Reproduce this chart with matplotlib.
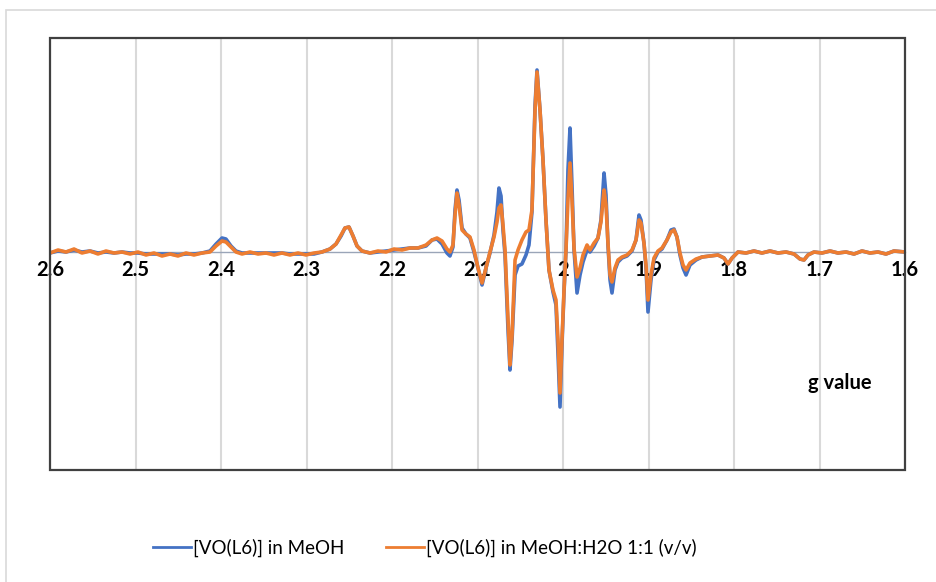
import numpy as np
import matplotlib
matplotlib.use("Agg")
from matplotlib import pyplot as plt
from matplotlib.patches import Rectangle

plt.rcParams['font.family'] = ['Lato', 'DejaVu Sans']

# g value axis (reversed, 2.6 -> 1.6)
g = [2.6000, 2.5906, 2.5813, 2.5719, 2.5626, 2.5532, 2.5439, 2.5345, 2.5251, 2.5158,
     2.5064, 2.4971, 2.4877, 2.4784, 2.4690, 2.4596, 2.4503, 2.4409, 2.4316, 2.4222,
     2.4129, 2.4058, 2.3988, 2.3942, 2.3883, 2.3825, 2.3754, 2.3661, 2.3567, 2.3474,
     2.3380, 2.3287, 2.3193, 2.3099, 2.3006, 2.2912, 2.2819, 2.2725, 2.2655, 2.2596,
     2.2550, 2.2503, 2.2456, 2.2409, 2.2351, 2.2257, 2.2164, 2.2070, 2.1977, 2.1883,
     2.1789, 2.1696, 2.1602, 2.1532, 2.1474, 2.1415, 2.1357, 2.1322, 2.1287, 2.1263,
     2.1240, 2.1216, 2.1181, 2.1135, 2.1088, 2.1041, 2.0994, 2.0947, 2.0901, 2.0854,
     2.0807, 2.0772, 2.0749, 2.0725, 2.0702, 2.0678, 2.0643, 2.0620, 2.0596, 2.0561,
     2.0526, 2.0480, 2.0433, 2.0398, 2.0363, 2.0327, 2.0304, 2.0269, 2.0234, 2.0199,
     2.0164, 2.0117, 2.0082, 2.0058, 2.0035, 2.0012, 1.9988, 1.9965, 1.9942, 1.9918,
     1.9895, 1.9871, 1.9836, 1.9801, 1.9766, 1.9719, 1.9684, 1.9637, 1.9591, 1.9556,
     1.9520, 1.9497, 1.9474, 1.9450, 1.9427, 1.9392, 1.9357, 1.9310, 1.9251, 1.9193,
     1.9146, 1.9111, 1.9088, 1.9053, 1.9029, 1.9006, 1.8971, 1.8936, 1.8889, 1.8842,
     1.8784, 1.8737, 1.8702, 1.8667, 1.8632, 1.8596, 1.8561, 1.8515, 1.8444, 1.8374,
     1.8281, 1.8187, 1.8117, 1.8070, 1.8023, 1.7953, 1.7860, 1.7766, 1.7673, 1.7579,
     1.7485, 1.7392, 1.7298, 1.7228, 1.7181, 1.7135, 1.7064, 1.6971, 1.6877, 1.6784,
     1.6690, 1.6596, 1.6503, 1.6409, 1.6316, 1.6222, 1.6129, 1.6000]

# [VO(L6)] in MeOH (blue)
meoh = [-1, 1, 0, 2, 0, 1, -1, 0, -1, 0,
        -1, -1, -2, -2, -2, -2, -3, -2, -2, -1,
        1, 8, 14, 13, 6, 1, -1, -1, -1, -1,
        -1, -1, -2, -2, -2, -2, 0, 3, 8, 16,
        24, 25, 16, 6, 1, -1, 0, 1, 2, 3,
        4, 4, 6, 12, 13, 8, -1, -4, 5, 42,
        62, 52, 24, 18, 14, 0, -16, -33, -16, -1,
        17, 40, 64, 56, 22, -3, -78, -118, -88, -23,
        -14, -12, -3, 7, 40, 147, 182, 142, 92, 32,
        -18, -40, -53, -103, -155, -93, -40, 2, 82, 124,
        67, 2, -41, -23, -10, 2, 0, 6, 14, 32,
        79, 57, 7, -28, -41, -18, -10, -6, -4, 1,
        12, 37, 32, 9, -16, -60, -28, -8, 0, 3,
        12, 22, 23, 15, -3, -16, -23, -13, -8, -5,
        -4, -3, -6, -12, -6, 0, -1, 1, -1, 1,
        -1, 0, -2, -7, -8, -3, 0, -1, 1, -1,
        0, -2, 1, -1, 0, -2, 1, 0]

# [VO(L6)] in MeOH:H2O 1:1 (v/v) (orange)
meoh_h2o = [-1, 2, 0, 3, -1, 1, -2, 1, -1, 0,
            -2, 0, -3, -1, -4, -2, -4, -1, -3, -1,
            0, 6, 11, 10, 5, 0, -2, 0, -2, -1,
            -3, -1, -3, -1, -3, -1, 0, 3, 8, 17,
            24, 25, 16, 6, 1, -1, 1, 0, 3, 2,
            4, 4, 7, 12, 14, 11, 3, 0, 7, 37,
            59, 47, 22, 18, 15, 2, -16, -31, -16, 0,
            15, 30, 44, 47, 27, 2, -68, -113, -83, -8,
            2, 12, 20, 22, 42, 142, 180, 142, 92, 32,
            -18, -38, -48, -88, -141, -88, -38, 2, 52, 89,
            52, 4, -25, -16, -3, 7, 2, 9, 14, 30,
            62, 47, 9, -23, -30, -16, -8, -5, -3, 2,
            12, 32, 29, 9, -13, -48, -23, -6, 1, 4,
            12, 20, 22, 15, -1, -13, -18, -11, -7, -5,
            -4, -3, -6, -12, -6, 0, -1, 1, -1, 1,
            -1, 0, -2, -7, -8, -3, 0, -1, 1, -1,
            0, -2, 1, -1, 0, -2, 1, 0]

xticks = [2.6, 2.5, 2.4, 2.3, 2.2, 2.1, 2.0, 1.9, 1.8, 1.7, 1.6]
xticklabels = ['2.6', '2.5', '2.4', '2.3', '2.2', '2.1', '2', '1.9', '1.8', '1.7', '1.6']

fig = plt.figure(figsize=(9.36, 5.82), dpi=100)
# light outer chart-area frame
fig.patches.append(Rectangle((6 / 936, -0.01), 1.0, 1 - 10 / 582 + 0.01, transform=fig.transFigure,
                             fill=False, edgecolor='#d9d9d9', linewidth=1.2))

ax = fig.add_axes([50 / 936, 1 - 470 / 582, 855 / 936, 432 / 582])
ax.set_xlim(2.6, 1.6)
ax.set_ylim(-218, 214)

for t in xticks:
    ax.axvline(t, color='#d9d9d9', linewidth=1.5, zorder=0)

ax.plot(g, meoh, color='#4472C4', linewidth=2.6, label='[VO(L6)] in MeOH', zorder=3)
ax.plot(g, meoh_h2o, color='#ED7D31', linewidth=2.6, label='[VO(L6)] in MeOH:H2O 1:1 (v/v)', zorder=4)

# x axis crosses at zero, plot area gets its own dark frame
for s in ['top', 'left', 'right']:
    ax.spines[s].set_visible(False)
ax.spines['bottom'].set_position(('data', 0))
ax.spines['bottom'].set_color('#9aa5b8')
ax.spines['bottom'].set_linewidth(1.0)
ax.spines['bottom'].set_zorder(2)

ax.set_xticks(xticks)
ax.set_xticklabels(xticklabels, fontsize=14.5, fontweight='bold')
ax.tick_params(axis='x', length=0, pad=6)
ax.set_yticks([])

ax.add_patch(Rectangle((0, 0), 1, 1, transform=ax.transAxes, fill=False,
                       edgecolor='#404040', linewidth=1.6, zorder=5, clip_on=False))

ax.text(1.676, -131, 'g value', fontsize=14.5, fontweight='bold', ha='center', va='center')

leg = fig.legend(loc='center', bbox_to_anchor=(425 / 936, 1 - 548 / 582), ncol=2, frameon=False,
                 fontsize=13.5, handlelength=2.0, handletextpad=0.15, columnspacing=2.2)
for h in leg.legend_handles:
    h.set_linewidth(2.0)

fig.savefig('out.png', dpi=100)
